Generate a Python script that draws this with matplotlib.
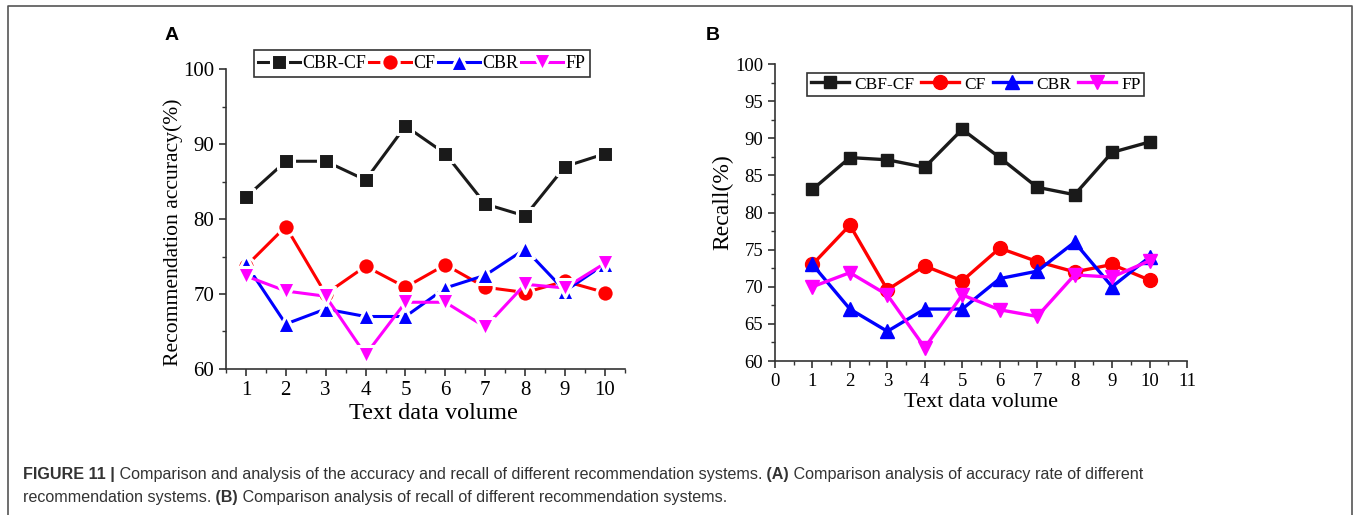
import matplotlib
matplotlib.use("Agg")
import matplotlib.pyplot as plt
from matplotlib.markers import MarkerStyle
from matplotlib.ticker import MultipleLocator

volume = [1, 2, 3, 4, 5, 6, 7, 8, 9, 10]

# Panel A: recommendation accuracy (%)
acc_cbr_cf = [82.9, 87.7, 87.7, 85.2, 92.4, 88.7, 82.0, 80.4, 87.0, 88.7]
acc_cf = [73.7, 79.0, 70.0, 73.7, 70.9, 73.9, 70.9, 70.2, 71.7, 70.2]
acc_cbr = [74.0, 66.0, 68.0, 67.0, 67.0, 70.8, 72.5, 76.0, 70.4, 74.0]
acc_fp = [72.4, 70.4, 69.7, 61.9, 68.9, 68.9, 65.6, 71.3, 70.8, 74.1]

# Panel B: recall (%)
rec_cbf_cf = [83.1, 87.4, 87.1, 86.1, 91.2, 87.4, 83.4, 82.4, 88.1, 89.5]
rec_cf = [73.0, 78.3, 69.6, 72.8, 70.8, 75.2, 73.4, 72.0, 73.0, 70.9]
rec_cbr = [73.0, 67.0, 64.0, 67.0, 67.0, 71.1, 72.1, 76.0, 70.0, 74.0]
rec_fp = [70.0, 71.9, 68.9, 61.8, 68.9, 66.9, 66.0, 71.6, 71.3, 73.5]

names_a = ["CBR-CF", "CF", "CBR", "FP"]
names_b = ["CBF-CF", "CF", "CBR", "FP"]
colors = ["#1a1a1a", "#ff0000", "#0000ff", "#ff00ff"]
markers = ["s", "o", "^", "v"]
msizes = [8, 9.5, 10, 10]

serif = "Liberation Serif"

fig = plt.figure(figsize=(13.57, 5.15), dpi=100)

# outer frame of the figure panel
fig.add_artist(plt.Line2D([0.0059, 0.0059, 0.9963, 0.9963], [0.0, 0.988, 0.988, 0.0],
                          transform=fig.transFigure, color="#555555", lw=1.2))


def style_axes(ax, size):
    for s in ["top", "right"]:
        ax.spines[s].set_visible(False)
    for s in ["left", "bottom"]:
        ax.spines[s].set_color("#333333")
        ax.spines[s].set_linewidth(1.2)
    ax.tick_params(which="both", direction="out", colors="#333333", labelcolor="black")
    ax.tick_params(which="major", length=5, width=1.2, labelsize=size)
    ax.tick_params(which="minor", length=3, width=1.0)
    for lab in ax.get_xticklabels() + ax.get_yticklabels():
        lab.set_fontfamily(serif)


# ---- Panel A ----  (solid lines broken by a white gap round each symbol)
ax1 = fig.add_axes([0.1665, 0.2835, 0.294, 0.5825])
for ys, name, c, m, ms in zip([acc_cbr_cf, acc_cf, acc_cbr, acc_fp], names_a, colors, markers, msizes):
    ax1.plot(volume, ys, color=c, lw=2.2, marker=MarkerStyle(m, joinstyle="round"),
             markersize=ms + 3.0, markerfacecolor=c, markeredgecolor="white",
             markeredgewidth=2.2, label=name)
ax1.set_xlim(0.5, 10.5)
ax1.set_ylim(60, 100)
ax1.set_xticks(volume)
ax1.set_yticks([60, 70, 80, 90, 100])
ax1.xaxis.set_minor_locator(MultipleLocator(0.5))
ax1.yaxis.set_minor_locator(MultipleLocator(5))
style_axes(ax1, 15)
ax1.set_xlabel("Text data volume", fontfamily=serif, fontsize=17.5)
ax1.xaxis.set_label_coords(0.521, -0.115)
ax1.set_ylabel("Recommendation accuracy(%)", fontfamily=serif, fontsize=15.6)
ax1.yaxis.set_label_coords(-0.108, 0.457)
leg1 = ax1.legend(loc="lower left", bbox_to_anchor=(0.07, 0.975), ncol=4, frameon=True,
                  fancybox=False, edgecolor="black", handlelength=2.3, handletextpad=0.15,
                  columnspacing=0.15, borderpad=0.25, borderaxespad=0,
                  prop={"family": serif, "size": 13})
leg1.get_frame().set_linewidth(1.2)

# ---- Panel B ----
ax2 = fig.add_axes([0.5711, 0.299, 0.3036, 0.5767])
for ys, name, c, m, ms in zip([rec_cbf_cf, rec_cf, rec_cbr, rec_fp], names_b, colors, markers, msizes):
    ax2.plot(volume, ys, color=c, lw=2.4, marker=m, markersize=ms + 0.5,
             markerfacecolor=c, markeredgecolor=c, label=name)
ax2.set_xlim(0, 11)
ax2.set_ylim(60, 100)
ax2.set_xticks(range(0, 12))
ax2.set_yticks(range(60, 101, 5))
ax2.xaxis.set_minor_locator(MultipleLocator(0.5))
ax2.yaxis.set_minor_locator(MultipleLocator(2.5))
style_axes(ax2, 13.5)
ax2.set_xlabel("Text data volume", fontfamily=serif, fontsize=16, labelpad=2)
ax2.set_ylabel("Recall(%)", fontfamily=serif, fontsize=17)
ax2.yaxis.set_label_coords(-0.102, 0.535)
leg2 = ax2.legend(loc="upper left", bbox_to_anchor=(0.078, 0.97), ncol=4, frameon=True,
                  fancybox=False, edgecolor="black", handlelength=2.2, handletextpad=0.3,
                  columnspacing=0.4, borderpad=0.2, borderaxespad=0,
                  prop={"family": serif, "size": 12.5})
leg2.get_frame().set_linewidth(1.2)

# panel letters
fig.text(165 / 1357, 1 - 35 / 515, "A", fontsize=14, fontweight="bold",
         fontfamily="Liberation Sans", va="center", ha="left")
fig.text(706 / 1357, 1 - 35 / 515, "B", fontsize=14, fontweight="bold",
         fontfamily="Liberation Sans", va="center", ha="left")

# caption, built from pieces so that parts can be bold
cap_kw = dict(fontsize=11.6, fontfamily="Liberation Sans", color="#333333",
              va="bottom", ha="left")
line1 = [("FIGURE 11 |", "bold"),
         (" Comparison and analysis of the accuracy and recall of different recommendation systems.", "normal"),
         (" (A)", "bold"),
         (" Comparison analysis of accuracy rate of different", "normal")]
line2 = [("recommendation systems.", "normal"),
         (" (B)", "bold"),
         (" Comparison analysis of recall of different recommendation systems.", "normal")]

for parts, ypix in [(line1, 482), (line2, 505)]:
    prev = None
    for txt, w in parts:
        if prev is None:
            prev = fig.text(23 / 1357, 1 - ypix / 515, txt, fontweight=w, **cap_kw)
        else:
            prev = ax1.annotate(txt, xy=(1, 0), xycoords=prev, fontweight=w,
                                annotation_clip=False, **cap_kw)

fig.savefig("out.png", dpi=100)
